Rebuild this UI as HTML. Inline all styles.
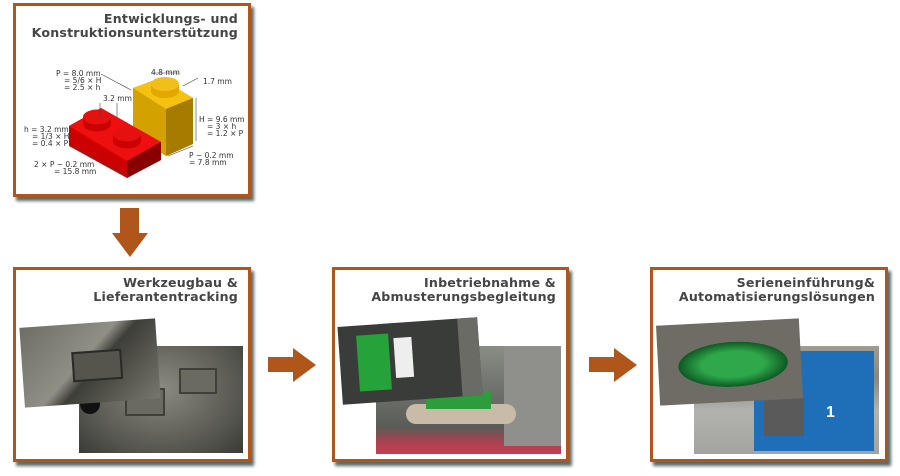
<!DOCTYPE html>
<html><head><meta charset="utf-8"><style>
*{margin:0;padding:0;box-sizing:border-box}
body{width:900px;height:476px;background:#fff;position:relative;overflow:hidden;font-family:"DejaVu Sans","Liberation Sans",sans-serif}
.box{position:absolute;border:3px solid #b0561a;background:#fff;box-shadow:3px 4px 3px #5a6a68;overflow:hidden}
.t{position:absolute;right:10px;top:6px;text-align:right;font-weight:bold;font-size:12.6px;line-height:14px;color:#454545;letter-spacing:0.2px}
.ph{position:absolute}
</style></head><body>

<div class="box" style="left:13px;top:3px;width:238px;height:194px">
 <div class="t">Entwicklungs- und<br>Konstruktionsunterstützung</div>
 <svg style="position:absolute;left:0;top:0" width="238" height="194" font-family="DejaVu Sans,sans-serif" font-size="7.5" fill="#333">
  <g transform="translate(-3,0)">
  <polygon points="120,82 147,72 180,92 180,138 153,150 120,130" fill="#d4a200"/>
  <polygon points="120,82 147,72 180,92 153,103" fill="#f5c20f"/>
  <polygon points="153,103 180,92 180,138 153,150" fill="#a67c00"/>
  <ellipse cx="152" cy="85" rx="14" ry="7" fill="#e0a800"/><rect x="138" y="78" width="28" height="8" fill="#e0a800"/><ellipse cx="152" cy="78" rx="14" ry="7" fill="#f2bf1a"/>
  </g>
  <g transform="translate(-15,0)">
  <polygon points="68,120 100,102 160,136 160,154 126,172 68,140" fill="#cc0000"/>
  <polygon points="68,120 100,102 160,136 126,155" fill="#ee1010"/>
  <polygon points="126,155 160,136 160,154 126,172" fill="#880000"/>
  <ellipse cx="96" cy="118" rx="14" ry="7.5" fill="#c00"/><rect x="82" y="111" width="28" height="7" fill="#c00"/><ellipse cx="96" cy="111" rx="14" ry="7.5" fill="#e51010"/>
  <ellipse cx="126" cy="135" rx="14" ry="7.5" fill="#c00"/><rect x="112" y="128" width="28" height="7" fill="#c00"/><ellipse cx="126" cy="128" rx="14" ry="7.5" fill="#e51010"/>
  </g>
  <g stroke="#444" stroke-width="0.6" fill="none">
   <line x1="85" y1="68" x2="115" y2="84"/><line x1="84" y1="97" x2="84" y2="112"/><line x1="101" y1="97" x2="101" y2="112"/>
   <line x1="57" y1="140" x2="110" y2="170"/><line x1="180" y1="92" x2="180" y2="135"/><line x1="152" y1="150" x2="177" y2="140"/>
   <line x1="135" y1="67" x2="163" y2="67"/><line x1="167" y1="80" x2="182" y2="72"/>
  </g>
  <text x="40" y="70">P = 8.0 mm</text><text x="48" y="77">= 5/6 × H</text><text x="48" y="84">= 2.5 × h</text>
  <text x="87" y="95">3.2 mm</text><text x="135" y="69">4.8 mm</text><text x="187" y="78">1.7 mm</text>
  <text x="8" y="126">h = 3.2 mm</text><text x="16" y="133">= 1/3 × H</text><text x="16" y="140">= 0.4 × P</text>
  <text x="18" y="161">2 × P − 0.2 mm</text><text x="38" y="168">= 15.8 mm</text>
  <text x="183" y="116">H = 9.6 mm</text><text x="191" y="123">= 3 × h</text><text x="191" y="130">= 1.2 × P</text>
  <text x="173" y="152">P − 0.2 mm</text><text x="173" y="159">= 7.8 mm</text>
 </svg>
</div>

<svg style="position:absolute;left:0;top:0" width="900" height="476">
 <polygon points="120,208 139,208 139,233 148,233 130,257 112,233 120,233" fill="#b0561a"/>
 <polygon points="268,357 293,357 293,348 316,365 293,382 293,372 268,372" fill="#b0561a"/>
 <polygon points="589,357 614,357 614,348 637,365 614,382 614,372 589,372" fill="#b0561a"/>
</svg>

<div class="box" style="left:13px;top:267px;width:238px;height:195px">
 <div class="t">Werkzeugbau &amp;<br>Lieferantentracking</div>
 <div class="ph" style="left:63px;top:76px;width:164px;height:107px;background:radial-gradient(ellipse at 50% 40%,#8a8a80,#55554f 70%,#3a3a36)">
  <div style="position:absolute;left:46px;top:42px;width:40px;height:28px;background:#6a6a60;border:2px solid #40403a"></div>
  <div style="position:absolute;left:100px;top:22px;width:38px;height:26px;background:#6a6a60;border:2px solid #40403a"></div>
  <div style="position:absolute;left:1px;top:48px;width:20px;height:20px;border-radius:50%;background:#111"></div>
 </div>
 <div class="ph" style="left:6px;top:53px;width:136px;height:80px;transform:rotate(-4deg);background:linear-gradient(135deg,#6e6e66,#8f8f86 45%,#3e3e38 55%,#77776e);">
  <div style="position:absolute;left:50px;top:28px;width:50px;height:30px;background:#55554e;border:2px solid #2a2a26"></div>
 </div>
</div>

<div class="box" style="left:332px;top:267px;width:237px;height:195px">
 <div class="t">Inbetriebnahme &amp;<br>Abmusterungsbegleitung</div>
 <div class="ph" style="left:41px;top:76px;width:185px;height:108px;background:linear-gradient(180deg,#8a8d86 0%,#6f726c 40%,#5a5c58 75%,#b04050 90%,#c24050 100%)">
  <div style="position:absolute;left:128px;top:0;width:57px;height:100px;background:#8f908c"></div>
  <div style="position:absolute;left:30px;top:58px;width:110px;height:20px;border-radius:10px;background:#c8bba8"></div>
  <div style="position:absolute;left:50px;top:45px;width:65px;height:18px;background:#2c9c3c"></div>
 </div>
 <div class="ph" style="left:5px;top:52px;width:140px;height:78px;transform:rotate(-4deg);background:#3a3c3a">
  <div style="position:absolute;left:18px;top:10px;width:32px;height:56px;background:#25a23a"></div>
  <div style="position:absolute;left:55px;top:15px;width:18px;height:40px;background:#eee"></div>
  <div style="position:absolute;left:120px;top:0;width:20px;height:78px;background:#6b6b66"></div>
 </div>
</div>

<div class="box" style="left:650px;top:267px;width:238px;height:195px">
 <div class="t">Serieneinführung&amp;<br>Automatisierungslösungen</div>
 <div class="ph" style="left:41px;top:76px;width:185px;height:108px;background:linear-gradient(180deg,#a09c90 0%,#8a8780 30%,#b2b2ae 60%,#a3a39f 100%)">
  <div style="position:absolute;left:60px;top:5px;width:120px;height:100px;background:#1f6fb8"></div>
  <div style="position:absolute;left:70px;top:50px;width:40px;height:40px;background:#5a5a5a"></div>
  <div style="position:absolute;left:132px;top:58px;font:bold 16px 'Liberation Sans',sans-serif;color:#fff">1</div>
 </div>
 <div class="ph" style="left:5px;top:52px;width:143px;height:80px;transform:rotate(-3deg);background:#6f6c66">
  <div style="position:absolute;left:20px;top:20px;width:110px;height:45px;border-radius:50%;background:radial-gradient(ellipse,#2ea84a 40%,#0f5a25 70%,#b8b0a0 72%)"></div>
 </div>
</div>

</body></html>
